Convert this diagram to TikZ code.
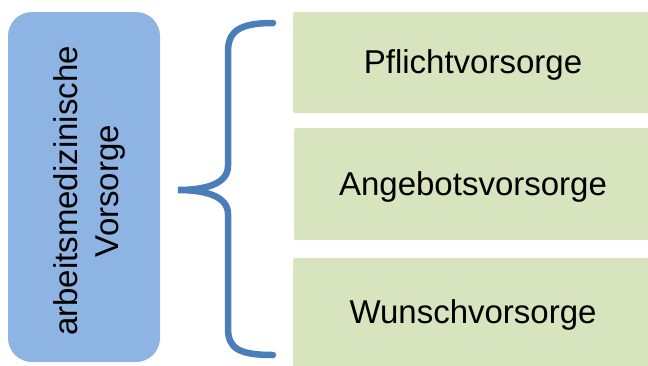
\documentclass[tikz,border=0pt]{standalone}
\usepackage{fontspec}
\setmainfont{Liberation Sans}
\definecolor{boxblue}{HTML}{8EB4E3}
\definecolor{boxgreen}{HTML}{D7E4BD}
\definecolor{bracecol}{HTML}{4A7EBB}
\begin{document}
\begin{tikzpicture}[x=1pt,y=-1pt,
  greenbox/.style={fill=boxgreen, draw=none, rounded corners=1.5pt},
  label/.style={font=\fontsize{33}{41}\selectfont, inner sep=0pt, anchor=base, text=black},
  bracestyle/.style={draw=bracecol, line width=6.5pt, line cap=round}]
\useasboundingbox (0,0) rectangle (648,365);
\clip (0,0) rectangle (648,365);
% left box
\path[fill=boxblue, rounded corners=24pt] (8,12) rectangle (160,362);
\node[font=\fontsize{33}{41}\selectfont, inner sep=0pt, align=center, rotate=90] (main) at (89,191)
  {arbeitsmedizinische\\Vorsorge};
% brace
\coordinate (btop) at (273,23);
\coordinate (btip) at (178,190);
\coordinate (bbot) at (273,355);
\draw[bracestyle] (btop) .. controls (238,23) and (228,32) .. (228,52)
  -- (228,166) .. controls (228,184) and (205,190) .. (btip)
  .. controls (205,190) and (228,196) .. (228,214)
  -- (228,328) .. controls (228,348) and (238,355) .. (bbot);
% green boxes
\path[greenbox] (293,12) rectangle (660,113);
\path[greenbox] (294,128) rectangle (660,240);
\path[greenbox] (293,258) rectangle (660,380);
\node[label] (p) at (473,73) {Pflichtvorsorge};
\node[label] (a) at (473,195) {Angebotsvorsorge};
\node[label] (w) at (473,323) {Wunschvorsorge};
\end{tikzpicture}
\end{document}
